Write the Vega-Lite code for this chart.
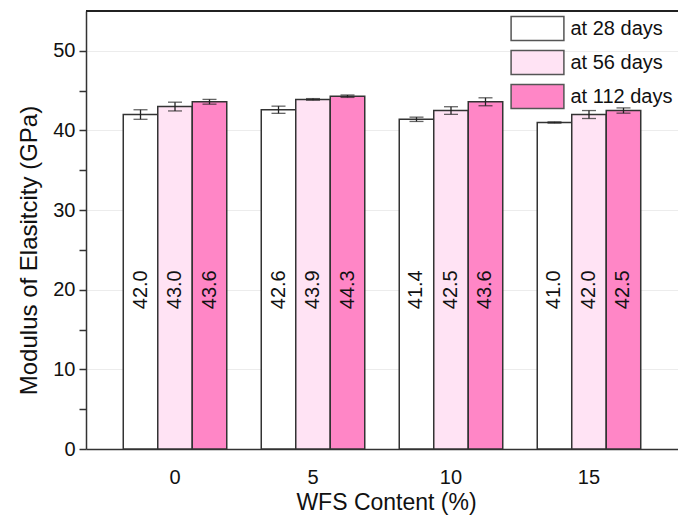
{
  "$schema": "https://vega.github.io/schema/vega-lite/v6.json",
  "width": 592,
  "height": 438,
  "autosize": {"type": "none"},
  "padding": {"left": 86, "top": 11, "right": 0, "bottom": 68},
  "background": "white",
  "config": {
    "font": "Liberation Sans",
    "view": {"stroke": null},
    "axis": {"domainColor": "#333", "domainWidth": 1.5, "labelColor": "#111", "titleColor": "#111", "titleFontWeight": "normal"}
  },
  "data": {
    "values": [
      {"wfs": "0", "age": "at 28 days", "v": 42.0, "lo": 41.4, "hi": 42.6},
      {"wfs": "0", "age": "at 56 days", "v": 43.0, "lo": 42.45, "hi": 43.55},
      {"wfs": "0", "age": "at 112 days", "v": 43.6, "lo": 43.3, "hi": 43.9},
      {"wfs": "5", "age": "at 28 days", "v": 42.6, "lo": 42.15, "hi": 43.05},
      {"wfs": "5", "age": "at 56 days", "v": 43.9, "lo": 43.8, "hi": 44.0},
      {"wfs": "5", "age": "at 112 days", "v": 44.3, "lo": 44.15, "hi": 44.45},
      {"wfs": "10", "age": "at 28 days", "v": 41.4, "lo": 41.13, "hi": 41.67},
      {"wfs": "10", "age": "at 56 days", "v": 42.5, "lo": 42.02, "hi": 42.98},
      {"wfs": "10", "age": "at 112 days", "v": 43.6, "lo": 43.1, "hi": 44.1},
      {"wfs": "15", "age": "at 28 days", "v": 41.0, "lo": 40.92, "hi": 41.08},
      {"wfs": "15", "age": "at 56 days", "v": 42.0, "lo": 41.5, "hi": 42.5},
      {"wfs": "15", "age": "at 112 days", "v": 42.5, "lo": 42.17, "hi": 42.83}
    ]
  },
  "layer": [
    {
      "mark": {"type": "bar", "stroke": "#333", "strokeWidth": 1.5},
      "encoding": {
        "x": {
          "field": "wfs", "type": "nominal", "sort": ["0", "5", "10", "15"],
          "scale": {"paddingInner": 0.25, "paddingOuter": 0.27},
          "axis": {"title": "WFS Content (%)", "labelAngle": 0, "ticks": false, "labelFontSize": 20, "labelPadding": 18, "titleFontSize": 23, "titlePadding": 4, "titleX": 300}
        },
        "xOffset": {"field": "age", "type": "nominal", "sort": ["at 28 days", "at 56 days", "at 112 days"]},
        "y": {
          "field": "v", "type": "quantitative",
          "scale": {"domain": [0, 55], "nice": false, "zero": true},
          "axis": {
            "title": "Modulus of Elasitcity (GPa)",
            "values": [0, 5, 10, 15, 20, 25, 30, 35, 40, 45, 50],
            "labelExpr": "datum.value % 10 == 0 ? datum.label : ''",
            "labelFontSize": 20, "labelPadding": 4,
            "tickSize": 7, "tickColor": "#333", "tickWidth": 1.5,
            "grid": true,
            "gridColor": {"condition": {"test": "datum.value % 10 == 0 && datum.value > 0", "value": "#ececec"}, "value": null},
            "titleFontSize": 24, "titlePadding": 11, "titleY": 239
          }
        },
        "fill": {
          "field": "age", "type": "nominal",
          "scale": {"domain": ["at 28 days", "at 56 days", "at 112 days"], "range": ["#ffffff", "#ffe3f4", "#ff86c6"]},
          "legend": {
            "title": null, "orient": "none", "legendX": 438.5, "legendY": 4.5,
            "symbolType": "M-2.2,-1H2.2V1H-2.2Z", "symbolSize": 576,
            "symbolStrokeColor": "#555", "symbolStrokeWidth": 1.5,
            "labelFontSize": 20, "labelColor": "#111", "rowPadding": 4, "labelOffset": 20
          }
        }
      }
    },
    {
      "mark": {"type": "rule", "color": "#222", "strokeWidth": 1.3},
      "encoding": {
        "x": {"field": "wfs", "type": "nominal", "sort": ["0", "5", "10", "15"]},
        "xOffset": {"field": "age", "type": "nominal", "sort": ["at 28 days", "at 56 days", "at 112 days"]},
        "y": {"field": "lo", "type": "quantitative"},
        "y2": {"field": "hi"}
      }
    },
    {
      "mark": {"type": "tick", "color": "#222", "thickness": 1.3, "size": 14},
      "encoding": {
        "x": {"field": "wfs", "type": "nominal", "sort": ["0", "5", "10", "15"]},
        "xOffset": {"field": "age", "type": "nominal", "sort": ["at 28 days", "at 56 days", "at 112 days"]},
        "y": {"field": "lo", "type": "quantitative"}
      }
    },
    {
      "mark": {"type": "tick", "color": "#222", "thickness": 1.3, "size": 14},
      "encoding": {
        "x": {"field": "wfs", "type": "nominal", "sort": ["0", "5", "10", "15"]},
        "xOffset": {"field": "age", "type": "nominal", "sort": ["at 28 days", "at 56 days", "at 112 days"]},
        "y": {"field": "hi", "type": "quantitative"}
      }
    },
    {
      "mark": {"type": "text", "angle": 270, "fontSize": 20, "color": "#111", "align": "center", "baseline": "middle"},
      "encoding": {
        "x": {"field": "wfs", "type": "nominal", "sort": ["0", "5", "10", "15"]},
        "xOffset": {"field": "age", "type": "nominal", "sort": ["at 28 days", "at 56 days", "at 112 days"]},
        "y": {"datum": 20, "type": "quantitative"},
        "text": {"field": "v", "type": "quantitative", "format": ".1f"}
      }
    },
    {
      "mark": {"type": "rule", "color": "#222", "strokeWidth": 1.5},
      "encoding": {"y": {"datum": 55, "type": "quantitative"}}
    }
  ]
}
